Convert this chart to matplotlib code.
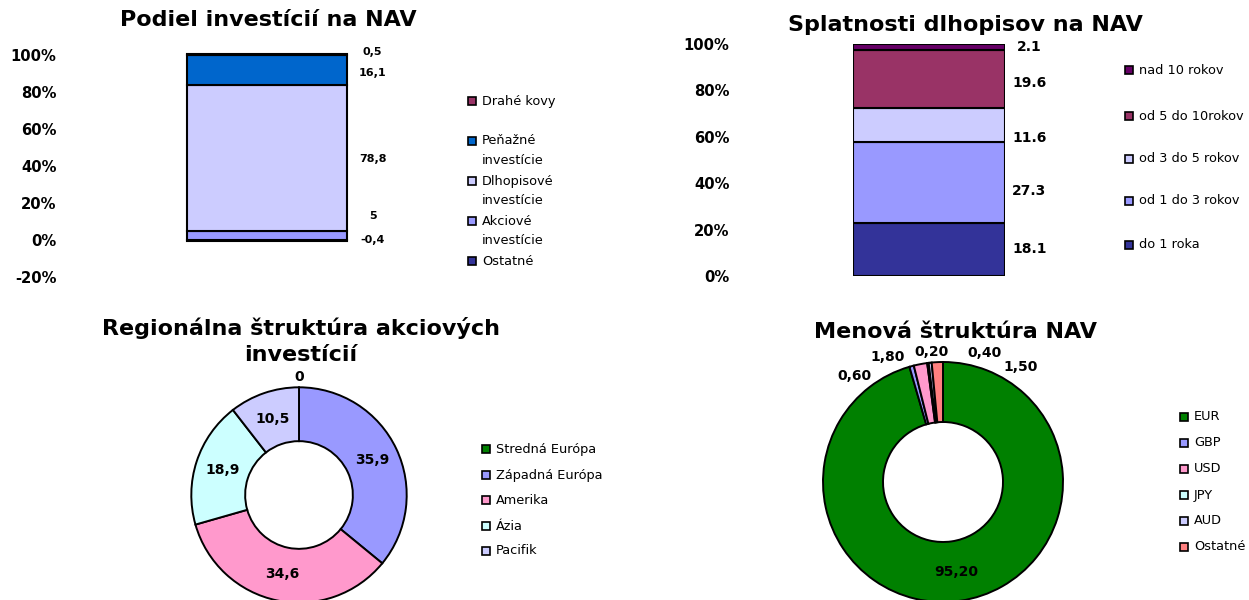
import matplotlib.pyplot as plt
import numpy as np
from matplotlib.patches import Rectangle

W, H = 1249, 600

# Podiel investícií na NAV (bottom -> top of the stack)
inv_labels = ['Ostatné', 'Akciové\ninvestície', 'Dlhopisové\ninvestície',
              'Peňažné\ninvestície', 'Drahé kovy']
inv_values = [-0.4, 5, 78.8, 16.1, 0.5]
inv_colors = ['#333399', '#9999FF', '#CCCCFF', '#0066CC', '#993366']
inv_ticks = [-20, 0, 20, 40, 60, 80, 100]

# Splatnosti dlhopisov na NAV (bottom -> top)
mat_labels = ['do 1 roka', 'od 1 do 3 rokov', 'od 3 do 5 rokov',
              'od 5 do 10rokov', 'nad 10 rokov']
mat_values = [18.1, 27.3, 11.6, 19.6, 2.1]
mat_colors = ['#333399', '#9999FF', '#CCCCFF', '#993366', '#660066']
mat_ticks = [0, 20, 40, 60, 80, 100]

# Regionálna štruktúra akciových investícií
reg_labels = ['Stredná Európa', 'Západná Európa', 'Amerika', 'Ázia', 'Pacifik']
reg_values = [0, 35.9, 34.6, 18.9, 10.5]
reg_colors = ['#008000', '#9999FF', '#FF99CC', '#CCFFFF', '#CCCCFF']

# Menová štruktúra NAV
cur_labels = ['EUR', 'GBP', 'USD', 'JPY', 'AUD', 'Ostatné']
cur_values = [95.2, 0.6, 1.8, 0.2, 0.4, 1.5]
cur_colors = ['#008000', '#9999FF', '#FF99CC', '#CCFFFF', '#CCCCFF', '#FF8080']
# where Excel moved the small labels (degrees from top, radius in R)
cur_lbl_ang = [None, -40, -24, -5, 18, 34]
cur_lbl_r = [0.76, 1.15, 1.14, 1.09, 1.13, 1.16]

TITLE = 16
TICK = 10.6
LEG = 9.3


def px_axes(fig, x0, y0, x1, y1):
    # box given in pixels from the top left corner
    return fig.add_axes([x0 / W, 1 - y1 / H, (x1 - x0) / W, (y1 - y0) / H])


def legend(fig, x, ys, labels, colors, step=20):
    for y, lab, col in zip(ys, labels, colors):
        fig.add_artist(Rectangle((x / W, 1 - (y + 4) / H), 8 / W, 8 / H,
                                 transform=fig.transFigure, facecolor=col,
                                 edgecolor='black', lw=1.2))
        for i, line in enumerate(lab.split('\n')):
            fig.text((x + 14) / W, 1 - (y + i * step) / H, line,
                     fontsize=LEG, ha='left', va='center')


def clean(ax):
    for s in ax.spines.values():
        s.set_visible(False)
    ax.set_xticks([])


def stacked(ax, values, colors, offsets, fmt, fontsize):
    pos, neg = 0, 0
    for v, c, dy in zip(values, colors, offsets):
        if v >= 0:
            base = pos
            pos += v
        else:
            base = neg
            neg += v
        ax.bar(0, v, bottom=base, width=1, color=c, edgecolor='black',
               linewidth=1.5, clip_on=False)
        ax.annotate(fmt(v), (1.16, base + v / 2),
                    xycoords=('axes fraction', 'data'),
                    xytext=(0, dy), textcoords='offset pixels',
                    ha='center', va='center', fontsize=fontsize,
                    fontweight='bold', annotation_clip=False)


def donut(ax, values, colors, label_fmt, lbl_ang=None, lbl_r=None):
    ax.pie(values, colors=colors, startangle=90, counterclock=False,
           radius=1, wedgeprops=dict(width=0.5, edgecolor='black',
                                     linewidth=1.4))
    ax.set_xlim(-1.3, 1.3)
    ax.set_ylim(-1.3, 1.3)
    total = sum(values)
    cum = 0
    for i, v in enumerate(values):
        ang = 360 * (cum + v / 2) / total
        r = 0.75 if v > 0 else 1.1
        if lbl_ang is not None:
            if lbl_ang[i] is not None:
                ang = lbl_ang[i]
            r = lbl_r[i]
        t = np.radians(ang)
        ax.text(r * np.sin(t), r * np.cos(t), label_fmt(v), ha='center',
                va='center', fontsize=10, fontweight='bold')
        cum += v


fig = plt.figure(figsize=(W / 100, H / 100), dpi=100)

# chart 1
ax1 = px_axes(fig, 187, 55, 347, 277)
ax1.set_xlim(-0.5, 0.5)
ax1.set_ylim(-20, 100)
stacked(ax1, inv_values, inv_colors, [0, 19, -1, -3, 3],
        lambda v: f"{v:g}".replace('.', ','), 8)
ax1.set_yticks(inv_ticks)
ax1.set_yticklabels([f"{t}%" for t in inv_ticks], fontsize=TICK,
                    fontweight='bold')
ax1.tick_params(axis='y', length=0, pad=94)
clean(ax1)
fig.text(268 / W, 1 - 20 / H, 'Podiel investícií na NAV', ha='center',
         va='center', fontsize=TITLE, fontweight='bold')
legend(fig, 468, [101, 141, 181, 221, 261], inv_labels[::-1],
       inv_colors[::-1])

# chart 2 (100 % stacked)
mat_pct = [v / sum(mat_values) * 100 for v in mat_values]
mat_base = np.concatenate([[0], np.cumsum(mat_pct)[:-1]])
ax2 = px_axes(fig, 853, 44, 1005, 276)
ax2.set_xlim(-0.5, 0.5)
ax2.set_ylim(0, 100)
ax2.bar([0] * len(mat_pct), mat_pct, width=1, bottom=mat_base,
        color=mat_colors, edgecolor='black', linewidth=1.5)
for p, v, base, dy in zip(mat_pct, mat_values, mat_base,
                          [0, -9, -13, -4, 0]):
    ax2.annotate(f"{v:.1f}", (1.16, base + p / 2),
                 xycoords=('axes fraction', 'data'),
                 xytext=(0, dy), textcoords='offset pixels', ha='center',
                 va='center', fontsize=10, fontweight='bold')
ax2.set_yticks(mat_ticks)
ax2.set_yticklabels([f"{t}%" for t in mat_ticks], fontsize=TICK,
                    fontweight='bold')
ax2.tick_params(axis='y', length=0, pad=89)
clean(ax2)
fig.text(965 / W, 1 - 25 / H, 'Splatnosti dlhopisov na NAV', ha='center',
         va='center', fontsize=TITLE, fontweight='bold')
legend(fig, 1125, [70, 116, 159, 201, 245], mat_labels[::-1],
       mat_colors[::-1])

# chart 3
ax3 = px_axes(fig, 299 - 140, 495 - 140, 299 + 140, 495 + 140)
donut(ax3, reg_values, reg_colors,
      lambda v: f"{v:g}".replace('.', ','))
fig.text(301 / W, 1 - 328 / H, 'Regionálna štruktúra akciových',
         ha='center', va='center', fontsize=TITLE, fontweight='bold')
fig.text(301 / W, 1 - 355 / H, 'investícií', ha='center', va='center',
         fontsize=TITLE, fontweight='bold')
legend(fig, 482, [449, 475, 500, 526, 551], reg_labels, reg_colors)

# chart 4
ax4 = px_axes(fig, 943 - 156, 482 - 156, 943 + 156, 482 + 156)
donut(ax4, cur_values, cur_colors,
      lambda v: f"{v:.2f}".replace('.', ','), cur_lbl_ang, cur_lbl_r)
fig.text(955 / W, 1 - 332 / H, 'Menová štruktúra NAV', ha='center',
         va='center', fontsize=TITLE, fontweight='bold')
legend(fig, 1180, [417, 443, 469, 495, 521, 547], cur_labels, cur_colors)

fig.savefig('out.png', dpi=100)
